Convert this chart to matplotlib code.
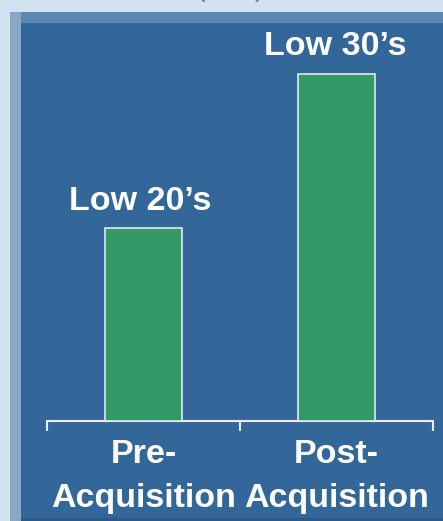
import matplotlib
matplotlib.use("Agg")
import matplotlib.pyplot as plt
from matplotlib.patches import Rectangle

# data
categories = ["Pre-\nAcquisition", "Post-\nAcquisition"]
values = [20, 36]
value_labels = ["Low 20\u2019s", "Low 30\u2019s"]

bg = "#D3E2F1"
panel = "#336699"
bar_color = "#339966"

fig = plt.figure(figsize=(4.43, 5.21), dpi=100)
fig.patch.set_facecolor(bg)

W, H = 443.0, 521.0
def fx(x): return x / W
def fy(y): return 1 - y / H

# bevelled panel
def box(x0, y0, w, h, c):
    fig.patches.append(Rectangle((x0, y0), w, h, transform=fig.transFigure,
                                 facecolor=c, edgecolor="none", zorder=-5))

box(fx(10), 0, 1 - fx(10), fy(12), "#5B87B2")
box(fx(10), 0, fx(21) - fx(10), fy(12), "#88A6C6")
box(fx(21), 0, 1 - fx(21), fy(23), panel)
box(fx(21), 0, 1 - fx(21), 3 / H, "#2A5A88")

# cut-off subtitle at the top
fig.text(0.52, fy(-2), "(in $M)", color="#808080", fontsize=14, ha="center",
         va="baseline", family="Liberation Sans", fontweight="bold")

ax = fig.add_axes([fx(47), fy(421), fx(433) - fx(47), fy(24) - fy(421)])
ax.set_zorder(5)
ax.set_facecolor("none")
x = [0.5, 1.5]
ax.bar(x, values, width=0.4, color=bar_color, edgecolor="#E0E8F0", linewidth=1.2, zorder=3)
ax.set_xlim(0, 2)
ax.set_ylim(0, 20 * 397 / 193)

for xi, v, lab, dx in zip(x, values, value_labels, [-2.5, -1]):
    ax.annotate(lab, (xi, v), xytext=(dx, 8), textcoords="offset points",
                ha="center", va="bottom", color="white", fontsize=24.5,
                fontweight="bold", family="Liberation Sans")

for s in ["top", "right", "left"]:
    ax.spines[s].set_visible(False)
ax.spines["bottom"].set_color("#E8EEF4")
ax.spines["bottom"].set_linewidth(1.5)
ax.set_yticks([])
ax.set_xticks([0, 1, 2])
ax.set_xticklabels([])
ax.tick_params(axis="x", length=7, width=1.5, color="#E8EEF4", direction="out")
ax.set_xticks(x, minor=True)
ax.set_xticklabels(categories, minor=True)
ax.tick_params(axis="x", which="minor", length=0, pad=13, labelcolor="white",
               labelsize=24.5)
for t in ax.get_xticklabels(minor=True):
    t.set_fontweight("bold")
    t.set_family("Liberation Sans")
    t.set_linespacing(1.55)

fig.savefig("out.png", dpi=100, facecolor=bg)
